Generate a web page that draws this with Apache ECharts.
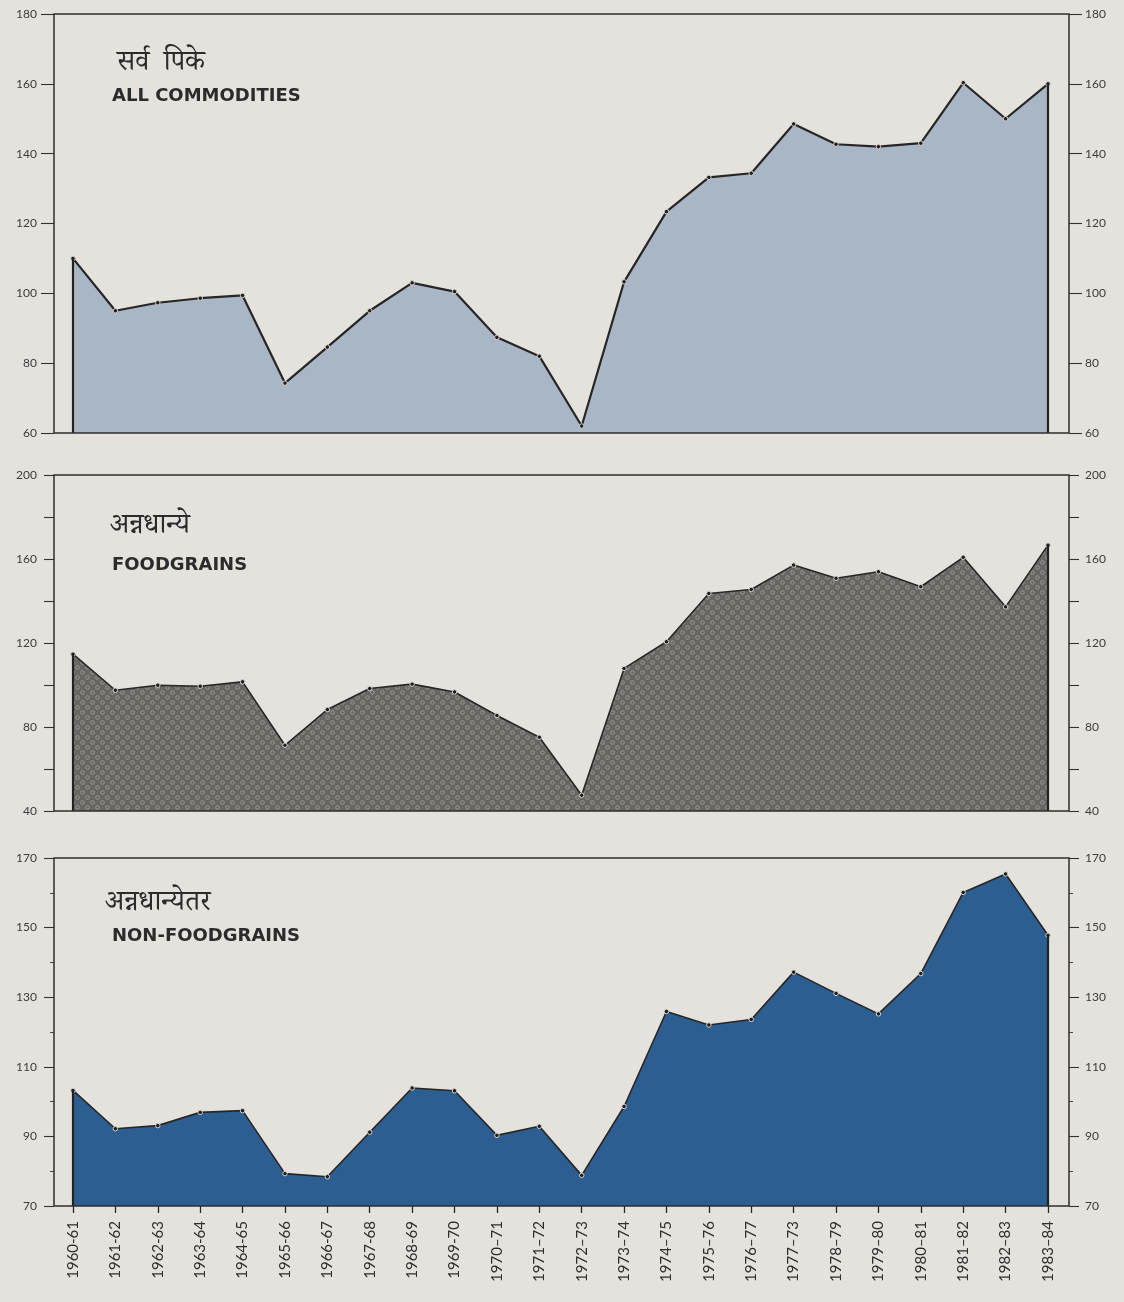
<!DOCTYPE html>
<html>
<head>
<meta charset="utf-8">
<script src="https://cdn.jsdelivr.net/npm/echarts@6/dist/echarts.min.js"></script>
<style>
html,body{margin:0;padding:0;background:#e5e1dc;}
#c{width:1124px;height:1302px;}
</style>
</head>
<body>
<div id="c"></div>
<script>
// ---------- data ----------
const categories = ['1960-61','1961-62','1962-63','1963-64','1964-65','1965-66','1966-67','1967-68','1968-69','1969-70',
  '1970–71','1971–72','1972–73','1973–74','1974–75','1975–76','1976–77','1977–73','1978–79','1979–80','1980–81','1981–82','1982–83','1983–84'];

const allCommodities = [110, 95, 97.3, 98.6, 99.4, 74.3, 84.6, 95, 103, 100.5, 87.4, 82, 62, 103.3, 123.4, 133.2, 134.4, 148.5, 142.7, 142, 143, 160.3, 150, 160];
const foodgrains     = [114.7, 97.5, 99.9, 99.4, 101.5, 71.3, 88.3, 98.3, 100.4, 96.7, 85.5, 75.1, 47.5, 107.9, 120.6, 143.6, 145.5, 157.1, 150.8, 153.9, 146.8, 160.8, 137.2, 166.6];
const nonFoodgrains  = [103.2, 92.2, 93.1, 96.9, 97.4, 79.3, 78.4, 91.2, 103.9, 103.1, 90.3, 92.9, 78.8, 98.6, 125.9, 122, 123.6, 137.2, 131.1, 125.2, 136.8, 160.1, 165.4, 147.8];

const ticksAll  = [60, 80, 100, 120, 140, 160, 180];
const ticksFood = [40, 80, 120, 160, 200];
const ticksNon  = [70, 90, 110, 130, 150, 170];

const titlesHi = ['सर्व  पिके', 'अन्नधान्ये', 'अन्नधान्येतर'];
const titlesEn = ['ALL COMMODITIES', 'FOODGRAINS', 'NON-FOODGRAINS'];

// ---------- styling / layout ----------
function makePattern() {
  const c = document.createElement('canvas');
  c.width = 10; c.height = 10;
  const g = c.getContext('2d');
  g.fillStyle = '#686662';
  g.fillRect(0, 0, 10, 10);
  g.strokeStyle = '#a19f9a';
  g.lineWidth = 0.9;
  [[2.5, 2.5], [7.5, 7.5]].forEach(p => {
    g.beginPath(); g.arc(p[0], p[1], 1.8, 0, Math.PI * 2); g.stroke();
  });
  return c;
}

const panels = [
  { data: allCommodities, ticks: ticksAll, step: 20, minor: 0, fill: '#a8b6c5', top: 14, height: 419, lineW: 2.2, tickLen: 13 },
  { data: foodgrains, ticks: ticksFood, step: 20, minor: 0, fill: { image: makePattern(), repeat: 'repeat' }, top: 475, height: 336, lineW: 1.6, tickLen: 10 },
  { data: nonFoodgrains, ticks: ticksNon, step: 20, minor: 2, fill: '#2c5e91', top: 858, height: 348, lineW: 1.6, tickLen: 10 }
];

const DATA_L = 73, DATA_R = 1124 - 1048;
const FRAME_L = 54, FRAME_R = 1124 - 1069;
const labelFont = { fontFamily: 'Lato, "Open Sans", sans-serif', fontSize: 12, color: '#3c3c3c' };

const grid = [], xAxis = [], yAxis = [], series = [], title = [];

panels.forEach((p, i) => {
  const lo = p.ticks[0], hi = p.ticks[p.ticks.length - 1];
  grid.push({ left: DATA_L, right: DATA_R, top: p.top, height: p.height });
  xAxis.push({
    gridIndex: i, type: 'category', data: categories, boundaryGap: false,
    axisLine: { show: false },
    axisTick: { show: i === 2, length: 7, alignWithLabel: true, lineStyle: { color: '#2a2a2a', width: 1.3 } },
    axisLabel: { show: i === 2, rotate: 90, margin: 15, fontFamily: 'Lato, sans-serif', fontSize: 15, color: '#2e2e2e' },
    splitLine: { show: false }
  });
  const fmt = v => (p.ticks.indexOf(v) >= 0 ? String(v) : '');
  ['left', 'right'].forEach(pos => {
    yAxis.push({
      gridIndex: i, type: 'value', position: pos,
      offset: pos === 'left' ? DATA_L - FRAME_L : (1124 - FRAME_R) - (1124 - DATA_R),
      min: lo, max: hi, interval: p.step,
      axisLine: { show: false },
      axisTick: { show: true, length: p.tickLen, lineStyle: { color: '#333', width: 1.1 } },
      minorTick: { show: p.minor > 0, splitNumber: p.minor || 5, length: 4, lineStyle: { color: '#444', width: 1 } },
      axisLabel: Object.assign({ margin: pos === 'left' ? 17 : 16, formatter: fmt }, labelFont),
      splitLine: { show: false }
    });
  });
  const last = categories.length - 1;
  series.push({
    type: 'line', xAxisIndex: i, yAxisIndex: i * 2, data: p.data,
    symbol: 'circle', symbolSize: 4.5, showSymbol: true,
    lineStyle: { color: '#262626', width: p.lineW },
    itemStyle: { color: '#1e1e1e', borderColor: '#d8d4cf', borderWidth: 1 },
    areaStyle: { color: p.fill, opacity: 1, origin: 'start' },
    animation: false, silent: true,
    markLine: {
      silent: true, symbol: 'none', animation: false,
      label: { show: false },
      lineStyle: { color: '#222', width: 2.2, type: 'solid' },
      data: [
        [{ coord: [categories[0], lo] }, { coord: [categories[0], p.data[0]] }],
        [{ coord: [categories[last], lo] }, { coord: [categories[last], p.data[last]] }]
      ]
    }
  });
});

// frame grids (rectangles around each panel)
panels.forEach((p, i) => {
  grid.push({ left: FRAME_L, right: FRAME_R, top: p.top, height: p.height, show: true,
    borderColor: '#2e2e2e', borderWidth: 1.5, backgroundColor: 'transparent', z: 10 });
  xAxis.push({ gridIndex: 3 + i, type: 'value', show: false, min: 0, max: 1 });
  yAxis.push({ gridIndex: 3 + i, type: 'value', show: false, min: 0, max: 1 });
});

const hiTop = [48, 511, 888], hiLeft = [112, 105, 100];
const enTop = [82, 551, 922];
panels.forEach((p, i) => {
  title.push({ text: titlesHi[i], left: hiLeft[i], top: hiTop[i],
    textStyle: { fontFamily: '"Noto Serif Devanagari","Noto Sans Devanagari","Noto Sans", serif', fontSize: 28, fontWeight: 'normal', color: '#2b2b2b' } });
  title.push({ text: titlesEn[i], left: 107, top: enTop[i],
    textStyle: { fontFamily: '"DejaVu Sans", Lato, sans-serif', fontSize: 18, fontWeight: 'bold', color: '#2b2b2b' } });
});

const chart = echarts.init(document.getElementById('c'), null, { renderer: 'canvas' });
chart.setOption({
  backgroundColor: '#e5e1dc',
  animation: false,
  title, grid, xAxis, yAxis, series
});
</script>
</body>
</html>
